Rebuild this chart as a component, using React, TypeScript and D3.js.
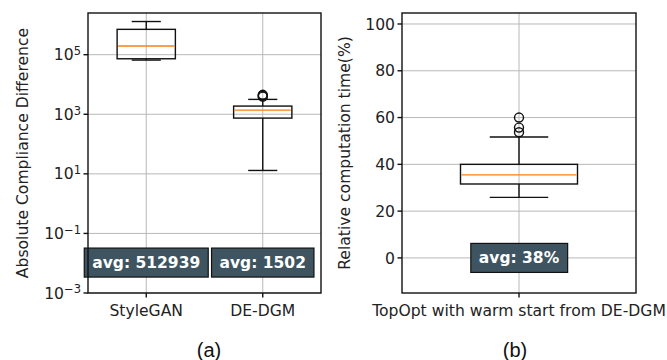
import React, { useEffect, useRef } from 'react';
import { select, scaleLog, scaleLinear } from 'd3';

// panel (a): box stats
const catsA = ['StyleGAN', 'DE-DGM'];
const whiskLoA = [66000, 13];
const q1A = [73000, 744];
const medA = [196000, 1380];
const q3A = [710000, 1884];
const whiskHiA = [1300000, 3160];
const outliersA = [[], [3900, 4200, 4500]];
const avgA = ['avg: 512939', 'avg: 1502'];
const yTicksA = [-3, -1, 1, 3, 5];

// panel (b)
const catB = 'TopOpt with warm start from DE-DGM';
const statsB = { lo: 25.9, q1: 31.6, med: 35.5, q3: 40, hi: 51.7 };
const outliersB = [53.7, 55.7, 60];
const avgB = 'avg: 38%';
const yTicksB = [0, 20, 40, 60, 80, 100];

const W = 667;
const H = 360;
const FONT = 'DejaVu Sans, sans-serif';
const FS = 15.6;
const GRID = '#b8b8b8';
const LABEL_BG = '#3e5561';
const LW = 1.4;

const App = () => {
  const svgRef = useRef();

  useEffect(() => {
    const svg = select(svgRef.current);
    svg.selectAll('*').remove();
    svg.append('rect').attr('width', W).attr('height', H).attr('fill', '#fff');

    const top = 13, bottom = 293;

    const drawBox = (g, x, y, bw, s, outs) => {
      // whiskers
      g.append('line').attr('x1', x).attr('x2', x).attr('y1', y(s.lo)).attr('y2', y(s.q1)).attr('stroke', '#111').attr('stroke-width', LW);
      g.append('line').attr('x1', x).attr('x2', x).attr('y1', y(s.q3)).attr('y2', y(s.hi)).attr('stroke', '#111').attr('stroke-width', LW);
      [s.lo, s.hi].forEach(v => {
        g.append('line').attr('x1', x - bw / 4).attr('x2', x + bw / 4).attr('y1', y(v)).attr('y2', y(v))
          .attr('stroke', '#111').attr('stroke-width', LW);
      });
      g.append('rect')
        .attr('x', x - bw / 2).attr('width', bw)
        .attr('y', y(s.q3)).attr('height', y(s.q1) - y(s.q3))
        .attr('fill', 'none').attr('stroke', '#111').attr('stroke-width', LW);
      g.append('line').attr('x1', x - bw / 2 + 1).attr('x2', x + bw / 2 - 1).attr('y1', y(s.med)).attr('y2', y(s.med))
        .attr('stroke', '#ff7f0e').attr('stroke-width', LW);
      outs.forEach(v => {
        g.append('circle').attr('cx', x).attr('cy', y(v)).attr('r', 4.5)
          .attr('fill', 'none').attr('stroke', '#111').attr('stroke-width', LW);
      });
    };

    const avgLabel = (g, x, yy, txt) => {
      const t = g.append('text').attr('x', x).attr('y', yy).attr('dy', '0.36em')
        .attr('text-anchor', 'middle').attr('font-family', FONT).attr('font-size', 15.5)
        .attr('font-weight', 'bold').attr('fill', '#fff').text(txt);
      const bb = t.node().getBBox();
      g.append('rect')
        .attr('x', bb.x - 8).attr('y', yy - 14.5)
        .attr('width', bb.width + 16).attr('height', 29)
        .attr('fill', LABEL_BG).attr('stroke', '#111').attr('stroke-width', 1.2);
      t.raise();
    };

    // ---------- panel (a)
    const aL = 88, aR = 321;
    const ya = scaleLog().domain([1e-3, Math.pow(10, 6.4)]).range([bottom, top]);
    const xa = scaleLinear().domain([0.5, 2.5]).range([aL, aR]);
    const ga = svg.append('g');

    yTicksA.forEach(p => {
      const yy = ya(Math.pow(10, p));
      ga.append('line').attr('x1', aL).attr('x2', aR).attr('y1', yy).attr('y2', yy).attr('stroke', GRID);
      ga.append('line').attr('x1', aL - 4.5).attr('x2', aL).attr('y1', yy).attr('y2', yy).attr('stroke', '#111').attr('stroke-width', LW);
      const t = ga.append('text').attr('x', aL - 7).attr('y', yy).attr('dy', '0.36em')
        .attr('text-anchor', 'end').attr('font-family', FONT).attr('font-size', FS).attr('fill', '#222');
      t.append('tspan').text('10');
      t.append('tspan').attr('dy', '-0.45em').attr('font-size', 11.5).text(String(p).replace('-', '\u2212'));
    });
    catsA.forEach((c, i) => {
      const xx = xa(i + 1);
      ga.append('line').attr('x1', xx).attr('x2', xx).attr('y1', top).attr('y2', bottom).attr('stroke', GRID);
      ga.append('line').attr('x1', xx).attr('x2', xx).attr('y1', bottom).attr('y2', bottom + 4.5).attr('stroke', '#111').attr('stroke-width', LW);
      ga.append('text').attr('x', xx).attr('y', bottom + 23).attr('text-anchor', 'middle')
        .attr('font-family', FONT).attr('font-size', FS).attr('fill', '#222').text(c);
    });
    catsA.forEach((c, i) => {
      drawBox(ga, xa(i + 1), ya, xa(1.5) - xa(1), {
        lo: whiskLoA[i], q1: q1A[i], med: medA[i], q3: q3A[i], hi: whiskHiA[i],
      }, outliersA[i]);
    });
    avgA.forEach((s, i) => avgLabel(ga, xa(i + 1), ya(0.0105), s));
    ga.append('rect').attr('x', aL).attr('y', top).attr('width', aR - aL).attr('height', bottom - top)
      .attr('fill', 'none').attr('stroke', '#111').attr('stroke-width', LW);
    ga.append('text').attr('transform', `translate(28,${(top + bottom) / 2}) rotate(-90)`)
      .attr('text-anchor', 'middle').attr('font-family', FONT).attr('font-size', FS).attr('fill', '#222')
      .text('Absolute Compliance Difference');
    ga.append('text').attr('x', 209).attr('y', 357).attr('text-anchor', 'middle')
      .attr('font-family', 'Liberation Sans, Arial, sans-serif').attr('font-size', 20).attr('fill', '#111')
      .text('(a)');

    // ---------- panel (b)
    const bL = 402, bR = 636;
    const yb = scaleLinear().domain([-15, 104.7]).range([bottom, top]);
    const xb = scaleLinear().domain([0.5, 1.5]).range([bL, bR]);
    const gb = svg.append('g');
    yTicksB.forEach(v => {
      const yy = yb(v);
      gb.append('line').attr('x1', bL).attr('x2', bR).attr('y1', yy).attr('y2', yy).attr('stroke', GRID);
      gb.append('line').attr('x1', bL - 4.5).attr('x2', bL).attr('y1', yy).attr('y2', yy).attr('stroke', '#111').attr('stroke-width', LW);
      gb.append('text').attr('x', bL - 7).attr('y', yy).attr('dy', '0.36em').attr('text-anchor', 'end')
        .attr('font-family', FONT).attr('font-size', FS).attr('fill', '#222').text(v);
    });
    const xc = xb(1);
    gb.append('line').attr('x1', xc).attr('x2', xc).attr('y1', top).attr('y2', bottom).attr('stroke', GRID);
    gb.append('line').attr('x1', xc).attr('x2', xc).attr('y1', bottom).attr('y2', bottom + 4.5).attr('stroke', '#111').attr('stroke-width', LW);
    gb.append('text').attr('x', xc).attr('y', bottom + 23).attr('text-anchor', 'middle')
      .attr('font-family', FONT).attr('font-size', FS).attr('fill', '#222').text(catB);
    drawBox(gb, xc, yb, xb(1.5) - xb(1), statsB, outliersB);
    avgLabel(gb, xc, yb(0), avgB);
    gb.append('rect').attr('x', bL).attr('y', top).attr('width', bR - bL).attr('height', bottom - top)
      .attr('fill', 'none').attr('stroke', '#111').attr('stroke-width', LW);
    gb.append('text').attr('transform', `translate(350,${(top + bottom) / 2}) rotate(-90)`)
      .attr('text-anchor', 'middle').attr('font-family', FONT).attr('font-size', FS).attr('fill', '#222')
      .text('Relative computation time(%)');
    gb.append('text').attr('x', 515).attr('y', 357).attr('text-anchor', 'middle')
      .attr('font-family', 'Liberation Sans, Arial, sans-serif').attr('font-size', 20).attr('fill', '#111')
      .text('(b)');
  }, []);

  return (
    <svg ref={svgRef} width={W} height={H}
      style={{ position: 'absolute', left: 0, top: 0, display: 'block' }} />
  );
};

export default App;
